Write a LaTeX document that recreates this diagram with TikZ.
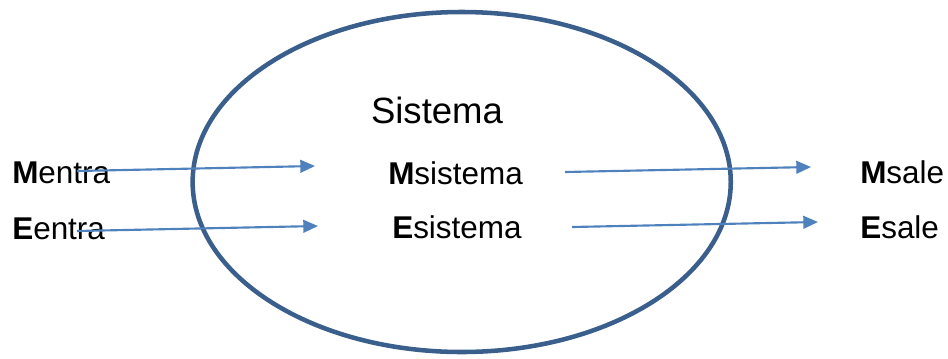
\documentclass[tikz,border=0pt]{standalone}
\usepackage{fontspec}
\setmainfont{Liberation Sans}
\usepackage{xcolor}
\usetikzlibrary{arrows.meta}
\definecolor{rim}{HTML}{3A5F8C}
\definecolor{flow}{HTML}{4F81BD}
\begin{document}
\begin{tikzpicture}[x=0.75pt,y=-0.75pt,
		lbl/.style={inner sep=0pt,anchor=base west,font=\fontsize{23.6pt}{28pt}\selectfont},
		flux/.style={flow,line width=1.6pt,-{Triangle[length=11pt,width=9.5pt]}}]
		\useasboundingbox(0,0)rectangle(948,358);
		\draw[rim,line width=3.4pt](461.7,182)ellipse[x radius=201.8pt,y radius=127.5pt];
		\node[inner sep=0pt,anchor=base,font=\fontsize{27.4pt}{32pt}\selectfont](sis) at(437,123){Sistema};
		\node[lbl](ment) at(12,183){\textbf{M}entra};
		\node[lbl](eent) at(12,239){\textbf{E}entra};
		\node[lbl](msis) at(388,184){\textbf{M}sistema};
		\node[lbl](esis) at(392,238){\textbf{E}sistema};
		\node[lbl](msal) at(860,183){\textbf{M}sale};
		\node[lbl](esal) at(860,238){\textbf{E}sale};
		\coordinate(m1) at(77,171);
		\coordinate(m2) at(315,166);
		\coordinate(e1) at(77,231);
		\coordinate(e2) at(318,226);
		\coordinate(m3) at(565,172);
		\coordinate(m4) at(811,167);
		\coordinate(e3) at(572,227);
		\coordinate(e4) at(818,222);
		\draw[flux](m1)--(m2);
		\draw[flux](e1)--(e2);
		\draw[flux](m3)--(m4);
		\draw[flux](e3)--(e4);
		\end{tikzpicture}
\end{document}
